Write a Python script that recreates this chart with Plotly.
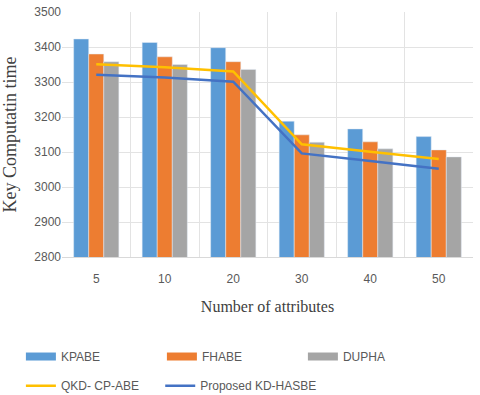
import plotly.graph_objects as go

categories = ["5", "10", "20", "30", "40", "50"]
kpabe = [3423, 3413, 3398, 3188, 3166, 3144]
fhabe = [3380, 3372, 3358, 3149, 3129, 3106]
dupha = [3358, 3350, 3336, 3128, 3109, 3086]
qkd_cpabe = [3351, 3342, 3330, 3122, 3101, 3080]
proposed = [3321, 3313, 3301, 3096, 3074, 3052]

bar_names = ["KPABE", "FHABE", "DUPHA"]
bar_colors = ["#5B9BD5", "#ED7D31", "#A5A5A5"]

xpos = list(range(len(categories)))

fig = go.Figure()
for name, vals, col in zip(bar_names, [kpabe, fhabe, dupha], bar_colors):
    fig.add_trace(go.Bar(x=xpos, y=vals, name=name, marker_color=col, showlegend=False))
# legend-only entries so the bar keys appear as wide rectangles (Excel style)
for name, col in zip(bar_names, bar_colors):
    fig.add_trace(go.Scatter(x=[None], y=[None], name=name, mode="lines",
                             line=dict(color=col, width=8), legend="legend"))
fig.add_trace(go.Scatter(x=xpos, y=qkd_cpabe, name="QKD- CP-ABE", mode="lines",
                         line=dict(color="#FFC000", width=2.5), legend="legend2"))
fig.add_trace(go.Scatter(x=xpos, y=proposed, name="Proposed KD-HASBE", mode="lines",
                         line=dict(color="#4472C4", width=2.5), legend="legend3"))

tickfont = dict(family="Liberation Sans, Arial, sans-serif", size=12, color="#595959")
titlefont = dict(family="Liberation Serif, Times New Roman, serif", size=18, color="#404040")

leg_common = dict(orientation="h", xanchor="left", yanchor="top",
                  font=tickfont, entrywidth=96, entrywidthmode="pixels",
                  itemwidth=30, traceorder="normal", bgcolor="rgba(0,0,0,0)")

fig.update_layout(
    width=480, height=395,
    margin=dict(l=62, r=7, t=12, b=138, autoexpand=False),
    paper_bgcolor="white", plot_bgcolor="white",
    barmode="group", bargap=0.34, bargroupgap=0,
    showlegend=True,
    legend=dict(x=-0.1, y=-0.347, **leg_common),
    legend2=dict(x=-0.1, y=-0.466, **leg_common),
    legend3=dict(x=0.239, y=-0.466, **dict(leg_common, entrywidth=140)),
    xaxis=dict(
        tickmode="array", tickvals=xpos, ticktext=categories,
        range=[-0.5, len(categories) - 0.5],
        showgrid=False, tickfont=tickfont, ticks="", ticklen=0,
        ticklabelstandoff=11,
        showline=True, linecolor="#D9D9D9", linewidth=1,
        minor=dict(tickvals=[i - 0.5 for i in range(len(categories) + 1)],
                   showgrid=True, gridcolor="#E3E3E3", gridwidth=1, ticks=""),
        title=dict(text="Number of attributes", font=dict(titlefont, size=16), standoff=15),
    ),
    yaxis=dict(
        range=[2800, 3500], dtick=100, tickfont=tickfont,
        showgrid=True, gridcolor="#E3E3E3", gridwidth=1,
        zeroline=False, showline=False, ticklabeloverflow="allow",
        title=dict(text="Key Computatin time", font=titlefont, standoff=32),
    ),
)

fig.write_html("out.html", config={"displayModeBar": False},
               post_script="document.body.style.margin='0';")
